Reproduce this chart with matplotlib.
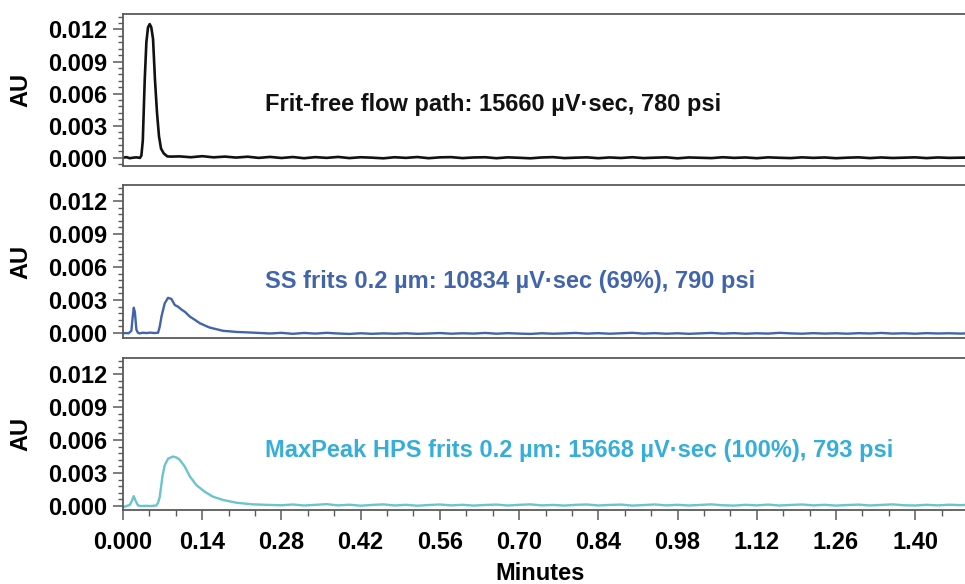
import numpy as np
import matplotlib
matplotlib.use("Agg")
import matplotlib.pyplot as plt
from matplotlib.ticker import MultipleLocator, FixedLocator

plt.rcParams['font.family'] = ['Liberation Sans', 'DejaVu Sans']
plt.rcParams['font.weight'] = 'bold'

# --- data (minutes, AU) ---
# frit-free: peak region then baseline sampled every 0.02 min from 0.10
top_t = [0.000, 0.006, 0.012, 0.018, 0.024, 0.030, 0.0325, 0.035, 0.0384, 0.0413,
         0.0442, 0.0472, 0.050, 0.0531, 0.0565, 0.0601, 0.0636, 0.0672, 0.072, 0.0783, 0.085]
top_au = [0.00000, 0.00005, -0.00005, 0.00000, 0.00003, -0.00002, 0.0002, 0.0016, 0.0073, 0.0108,
          0.0122, 0.0125, 0.0122, 0.0111, 0.0073, 0.0042, 0.0020, 0.00085, 0.0004, 0.00012, 0.00010]
top_base = [0.00012, 0.00004, 0.00014, 0.00003, 0.00010, 0.00001, 0.00009, -0.00002, 0.00007, -0.00003,
            0.00006, -0.00005, 0.00005, -0.00002, 0.00007, -0.00004, 0.00004, 0.00000, -0.00006, 0.00004,
            -0.00002, 0.00006, -0.00005, 0.00003, 0.00005, -0.00004, 0.00002, 0.00004, -0.00005, 0.00003,
            -0.00001, -0.00006, 0.00002, 0.00005, -0.00004, 0.00000, 0.00003, -0.00005, 0.00002, -0.00003,
            0.00004, -0.00004, 0.00000, 0.00003, -0.00006, 0.00002, -0.00001, -0.00004, 0.00004, -0.00002,
            0.00002, -0.00005, 0.00003, -0.00001, -0.00004, 0.00003, -0.00002, 0.00002, -0.00005, 0.00000,
            0.00003, -0.00004, 0.00002, -0.00003, 0.00000, 0.00003, -0.00004, 0.00002, -0.00002, 0.00000,
            0.00001, 0.00000]
top_base_start = 0.10

# SS frits
mid_t = [0.000, 0.005, 0.010, 0.0148, 0.017, 0.019, 0.021, 0.0237, 0.0265, 0.0295, 0.035,
         0.042, 0.048, 0.055, 0.062, 0.065, 0.068, 0.0737, 0.0796, 0.0855, 0.0914, 0.097,
         0.103, 0.110, 0.118, 0.127, 0.1356, 0.144, 0.153, 0.165, 0.177, 0.190, 0.200]
mid_au = [-0.00003, 0.00000, -0.00002, 0.0002, 0.0014, 0.0023, 0.0019, 0.0003, 0.00002, -0.00003, 0.00003,
          0.00000, 0.00004, 0.00000, 0.00003, 0.0006, 0.0015, 0.0027, 0.0032, 0.0031, 0.00255, 0.0024,
          0.00215, 0.0019, 0.0015, 0.0012, 0.0009, 0.0007, 0.0005, 0.00035, 0.0002, 0.00015, 0.00010]
mid_base = [0.00006, 0.00001, -0.00004, 0.00002, -0.00007, 0.00001, -0.00005, 0.00002, -0.00004, -0.00008,
            -0.00002, -0.00007, -0.00003, -0.00006, -0.00002, -0.00007, -0.00004, 0.00000, -0.00006, -0.00002,
            -0.00005, 0.00001, -0.00006, -0.00001, -0.00005, -0.00008, -0.00002, -0.00006, -0.00003, 0.00001,
            -0.00005, -0.00001, -0.00006, -0.00002, 0.00002, -0.00005, -0.00001, -0.00006, -0.00002, -0.00007,
            -0.00003, 0.00001, -0.00005, -0.00001, -0.00006, -0.00002, -0.00005, 0.00002, -0.00003, -0.00006,
            -0.00001, -0.00005, -0.00002, -0.00006, -0.00001, -0.00004, 0.00001, -0.00005, -0.00002, -0.00006,
            -0.00001, -0.00004, -0.00002, -0.00005, -0.00001, -0.00003]
mid_base_start = 0.22

# MaxPeak HPS frits
bot_t = [0.000, 0.006, 0.012, 0.016, 0.019, 0.022, 0.0265, 0.032, 0.040, 0.048, 0.055, 0.059,
         0.062, 0.065, 0.0697, 0.0737, 0.0796, 0.0884, 0.095, 0.1002, 0.109, 0.118, 0.1297,
         0.1444, 0.159, 0.177, 0.2005, 0.2298, 0.259]
bot_au = [-0.0001, 0.00000, 0.0001, 0.0005, 0.0009, 0.0005, 0.00005, 0.00000, 0.00002, 0.00000, 0.00003, 0.00005,
          0.0003, 0.00085, 0.0027, 0.0037, 0.0043, 0.0045, 0.0044, 0.0042, 0.0036, 0.0027, 0.0019,
          0.0013, 0.00085, 0.00055, 0.0003, 0.00015, 0.00010]
bot_base = [0.00007, 0.00014, 0.00005, 0.00011, 0.00017, 0.00006, 0.00012, 0.00003, 0.00010, 0.00015,
            0.00005, 0.00011, 0.00003, 0.00009, 0.00014, 0.00006, 0.00011, 0.00004, 0.00010, 0.00013,
            0.00005, 0.00011, 0.00015, 0.00006, 0.00010, 0.00004, 0.00011, 0.00014, 0.00005, 0.00010,
            0.00013, 0.00004, 0.00009, 0.00014, 0.00006, 0.00011, 0.00005, 0.00010, 0.00015, 0.00007,
            0.00004, 0.00011, 0.00006, 0.00013, 0.00005, 0.00010, 0.00014, 0.00006, 0.00011, 0.00004,
            0.00009, 0.00013, 0.00005, 0.00010, 0.00015, 0.00007, 0.00005, 0.00011, 0.00006, 0.00012,
            0.00008, 0.00013]
bot_base_start = 0.28

labels = ["Frit-free flow path: 15660 µV·sec, 780 psi",
          "SS frits 0.2 µm: 10834 µV·sec (69%), 790 psi",
          "MaxPeak HPS frits 0.2 µm: 15668 µV·sec (100%), 793 psi"]
label_y = [0.0044, 0.0041, 0.0045]
line_colors = ['#111111', '#4264AA', '#6BC4CD']
text_colors = ['#111111', '#4264AA', '#35AEDA']

x_ticks = [0.000, 0.14, 0.28, 0.42, 0.56, 0.70, 0.84, 0.98, 1.12, 1.26, 1.40]
x_ticklabels = ["0.000", "0.14", "0.28", "0.42", "0.56", "0.70", "0.84", "0.98", "1.12", "1.26", "1.40"]
y_ticks = [0.000, 0.003, 0.006, 0.009, 0.012]


def full_trace(t, au, base, start):
    bt = start + 0.02 * np.arange(len(base))
    return np.concatenate([t, bt]), np.concatenate([au, base])


traces = [full_trace(top_t, top_au, top_base, top_base_start),
          full_trace(mid_t, mid_au, mid_base, mid_base_start),
          full_trace(bot_t, bot_au, bot_base, bot_base_start)]

fig = plt.figure(figsize=(9.65, 5.84), dpi=100)
W, H = 965, 584
left = 123 / W
# (top px, bottom px, ymin)
panels = [(14, 166, -0.00078), (185, 338, -0.00045), (358, 510, -0.00036)]
spine_c = '#5a5a5a'
fs = 17

axes = []
for i, (ptop, pbot, ymin) in enumerate(panels):
    ax = fig.add_axes([left, 1 - pbot / H, 1 - left, (pbot - ptop) / H])
    t, au = traces[i]
    ax.plot(t, au, color=line_colors[i], lw=1.9 if i == 0 else 1.7, solid_joinstyle='round')
    ax.set_xlim(0, 1.488)
    ax.set_ylim(ymin, 0.01345)
    ax.spines['right'].set_visible(False)
    for s in ['top', 'left', 'bottom']:
        ax.spines[s].set_color(spine_c)
        ax.spines[s].set_linewidth(1.3)
    ax.yaxis.set_major_locator(FixedLocator(y_ticks))
    ax.yaxis.set_minor_locator(MultipleLocator(0.0006))
    ax.set_yticklabels([f"{v:.3f}" for v in y_ticks])
    ax.tick_params(axis='y', which='major', length=7, width=1.1, color=spine_c,
                   labelsize=fs, pad=4)
    ax.tick_params(axis='y', which='minor', length=3.5, width=1.0, color=spine_c)
    ax.set_ylabel("AU", fontsize=fs, fontweight='bold')
    ax.yaxis.set_label_coords(-0.107, 0.5)
    ax.text(0.251, label_y[i], labels[i], color=text_colors[i], fontsize=fs,
            fontweight='bold', va='baseline', ha='left')
    if i < 2:
        ax.tick_params(axis='x', which='both', bottom=False, labelbottom=False)
    else:
        ax.xaxis.set_major_locator(FixedLocator(x_ticks))
        ax.set_xticklabels(x_ticklabels)
        ax.xaxis.set_minor_locator(MultipleLocator(0.14 / 3))
        ax.tick_params(axis='x', which='major', length=7, width=1.1, color=spine_c,
                       labelsize=fs, pad=8)
        ax.tick_params(axis='x', which='minor', length=4.5, width=1.0, color=spine_c)
        ax.set_xlabel("Minutes", fontsize=fs, fontweight='bold')
        ax.xaxis.set_label_coords(0.495, -0.345)
    axes.append(ax)

fig.savefig("out.png", dpi=100)
